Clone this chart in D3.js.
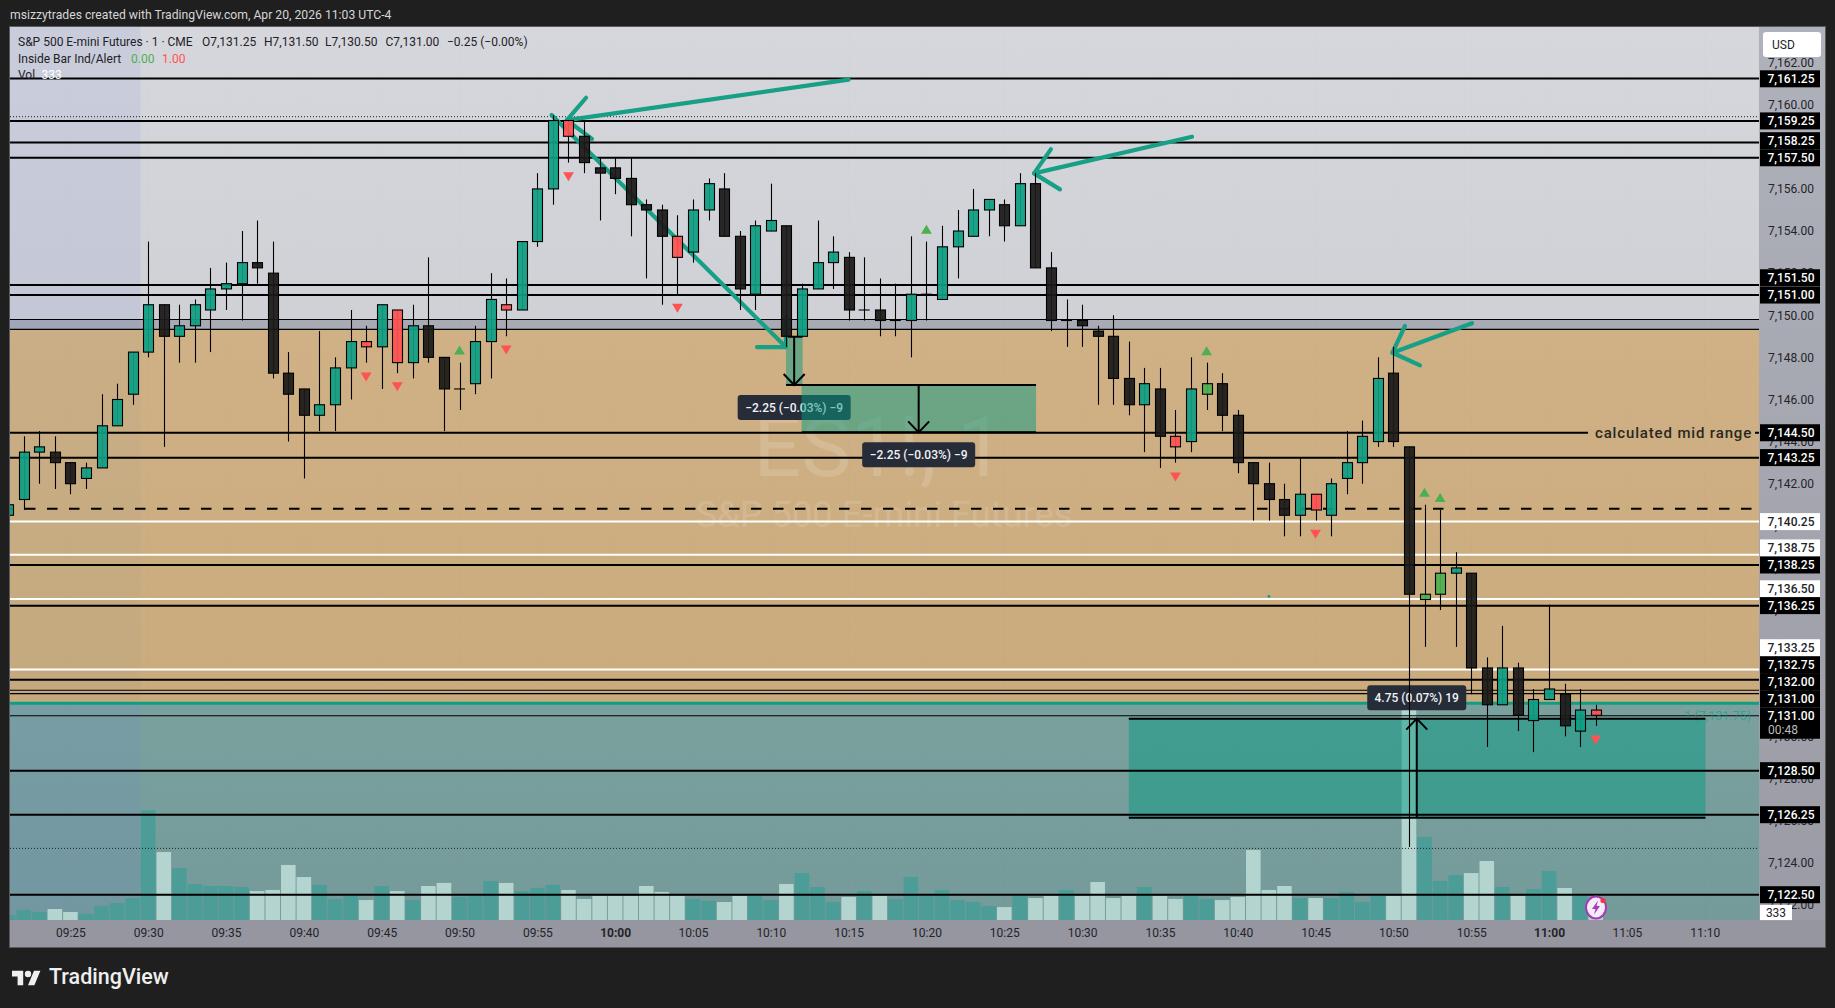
<!DOCTYPE html>
<html>
<head>
<meta charset="utf-8">
<script src="https://cdn.jsdelivr.net/npm/d3@7"></script>
<style>
  html, body { margin: 0; background: #1f1f1f; overflow: hidden; }
  svg { display: block; font-family: Roboto, sans-serif; }
</style>
</head>
<body>
<svg id="chart" width="1835" height="1008"></svg>
<script>
// 1 minute bars, first bar is 09:21
const firstMinute = 9 * 60 + 21;
const opens = [7140.5,7141.25,7143.5,7143.5,7143,7142.25,7142.75,7144.75,7146.25,7148.25,7150.5,7149,7149.5,7150.25,7151.25,7151.5,7152.5,7152,7147.25,7146.5,7145.25,7145.75,7147.5,7148.75,7148.5,7150.25,7147.75,7149.5,7148,7146.5,7146.75,7148.75,7150.5,7150.25,7153.5,7156,7159.25,7158.5,7157,7157,7156.5,7155.25,7155,7153.75,7153,7155,7156,7153.75,7151,7154,7154.25,7149,7151.25,7152.5,7152.75,7150.25,7150.25,7149.75,7149.75,7151,7150.75,7153.25,7153.75,7155,7155.25,7154.25,7156.25,7152.25,7149.75,7149.75,7149.25,7149,7147,7145.75,7146.5,7144.25,7144,7146.25,7146.75,7145.25,7143,7142,7141.25,7140.5,7141.5,7140.5,7142.25,7143,7144,7147.25,7143.75,7136.5,7136.75,7137.75,7137.75,7133.25,7131.5,7133.25,7130.75,7131.75,7132,7130.25,7131.25];
const highs = [7141,7144.25,7144.5,7144.25,7143,7143,7146.25,7146.75,7148.25,7153.5,7150.5,7150.5,7150.75,7152.25,7152.5,7154,7154.5,7153.5,7148.25,7146.5,7149.25,7148,7150.25,7149.5,7150.5,7150.25,7150.5,7152.75,7148,7147.75,7149.5,7152,7151.75,7153.5,7156.75,7159.5,7159.25,7159.25,7157.5,7157.5,7157.5,7155.5,7155.25,7154.75,7155.5,7156.5,7156.75,7154,7154.5,7156.25,7154.25,7151.5,7154.5,7153.75,7153,7152.75,7151.75,7151.5,7153.75,7153.5,7154.25,7155,7156,7155.5,7155.5,7156.75,7156.75,7153,7150.75,7150.5,7149.5,7150,7148.75,7147.5,7147.5,7145.5,7148,7147.75,7147.25,7145.5,7143,7143,7142,7143.25,7141.5,7142.25,7144.5,7145,7148,7148.5,7143.75,7141,7140.75,7138.75,7137.75,7133.75,7135.25,7133.5,7132.25,7136.25,7132.5,7132.25,7131.5];
const lows = [7140.5,7140.75,7142,7141.75,7141.5,7141.75,7142.75,7144.75,7145.75,7148,7143.75,7147.75,7147.75,7148.25,7150.25,7149.75,7151.5,7147,7144,7142.25,7144.5,7144.5,7146,7147.75,7146.5,7147.25,7147,7147.75,7144.5,7145.5,7146.25,7147,7149,7150.25,7153.25,7155.25,7157.25,7156.75,7154.5,7155.75,7153.75,7151.75,7150.5,7151,7152.5,7154.5,7153.75,7150.25,7150.25,7154,7148.5,7149,7151.25,7151.25,7149.75,7149.75,7149,7149,7148,7149.75,7150.75,7151.75,7153.75,7153.75,7153.5,7154.25,7152.25,7149.25,7148.5,7148.5,7145.75,7145.75,7145.25,7143.5,7142.75,7143,7143.5,7145.5,7144.5,7142.5,7140.25,7140.25,7139.5,7139.5,7140.25,7139.5,7141.5,7142,7143.75,7143.75,7124.75,7134.25,7136,7134.25,7132,7129.5,7131.5,7130.25,7129.25,7131.75,7130,7129.5,7130.5];
const closes = [7141,7143.5,7143.75,7143,7142,7142.75,7144.75,7146,7148.25,7150.5,7149,7149.5,7150.5,7151.25,7151.5,7152.5,7152.25,7147.25,7146.25,7145.25,7145.75,7147.5,7148.75,7148.5,7150.5,7147.75,7149.5,7148,7146.5,7146.5,7148.75,7150.75,7150.25,7153.5,7156,7159.25,7158.5,7157.25,7156.75,7156.5,7155.25,7155,7153.75,7152.75,7155,7156.25,7153.75,7151.25,7154.25,7154.5,7149,7151.25,7152.5,7153,7150.25,7150.25,7149.75,7149.75,7151,7151,7153.25,7154,7155,7155.5,7154.25,7156.25,7152.25,7149.75,7149.75,7149.5,7149,7147,7145.75,7146.75,7144.25,7143.75,7146.5,7146.75,7145.25,7143,7142,7141.25,7140.5,7141.5,7140.75,7142,7143,7144.25,7147,7144,7136.75,7136.75,7137.75,7138,7133.25,7131.5,7133.25,7131,7131.75,7132.25,7130.5,7131.25,7131];
const volumes = [230,460,365,500,365,275,640,775,1000,5000,3100,2370,1640,1550,1550,1505,1320,1370,2510,1960,1600,960,1095,910,1550,1320,910,1550,1690,1050,1095,1780,1690,1320,1460,1600,1370,960,1095,1095,1095,1550,1280,1095,960,865,820,1095,1095,910,1640,2140,1505,820,1050,1320,1095,960,1960,1095,1370,910,820,640,590,1095,1000,1095,1370,1095,1730,1000,1095,1505,1095,960,1095,960,910,1050,3190,1370,1550,1000,1000,1000,1280,820,1095,1095,9580,3785,1780,2050,2140,2690,1505,1095,1410,2235,1460,1095,333];

// Inside Bar indicator: bar times and where its triangle sits
const insideDownTimes = ["09:44","09:46","09:53","09:57","10:04","10:36","10:45","11:03"];
const insideDownPrices = [7147.07,7146.6,7148.35,7156.58,7150.33,7142.32,7139.6,7129.83];
const insideUpTimes = ["09:50","10:20","10:38","10:52","10:53"];
const insideUpPrices = [7148.35,7154.08,7148.32,7141.59,7141.35];

// Horizontal levels drawn on the chart
const blackLevels = [7161.25,7159.23,7158.2,7157.48,7151.44,7150.96,7144.42,7143.23,7138.14,7136.2,7132.69,7128.37,7126.28,7122.48];
const thinLevels = [7149.8,7149.33,7132.19,7132.03,7130.98];
const whiteLevels = [7140.2,7138.63,7136.52,7133.17];
const dottedLevels = [7159.43,7124.68];
const dashedLevel = 7140.81;
const positionLevel = 7131.57;
const midRangeLevel = 7144.42;
const midRangeText = "calculated mid range";

// Shaded zones
const bandTop = 7149.8;
const tanTop = 7149.33;
const tanBottom = 7131.57;

// Price axis
const priceTicks = d3.range(7122, 7163, 2);
const blackLabels = ["7,161.25","7,159.25","7,158.25","7,157.50","7,151.50","7,151.00","7,144.50","7,143.25","7,138.25","7,136.25","7,132.75","7,132.00","7,131.00","7,128.50","7,126.25","7,122.50"];
const blackLabelPrices = [7161.23,7159.23,7158.29,7157.48,7151.78,7150.96,7144.42,7143.24,7138.14,7136.21,7133.4,7132.6,7131.79,7128.37,7126.28,7122.48];
const whiteLabels = ["7,140.25","7,138.75","7,136.50","7,133.25"];
const whiteLabelPrices = [7140.2,7138.95,7137.01,7134.21];
const lastPrice = 7130.98;
const lastLabel = "7,131.00";
const countdown = "00:48";
const volumeLabel = "333";
const volumeLabelPrice = 7121.63;

// Time axis
const timeTicks = d3.range(565, 671, 5);

// Hand drawn arrows, each is a polyline of [bar index, price]
const arrowPaths = [
  [[35.9,7159.27],[54.0,7161.19]],
  [[37.13,7160.33],[35.9,7159.27],[37.51,7158.37]],
  [[34.92,7159.51],[49.97,7148.49]],
  [[48.11,7148.49],[49.97,7148.49],[49.97,7149.87]],
  [[65.91,7156.74],[76.06,7158.48]],
  [[66.99,7157.88],[65.91,7156.74],[67.58,7155.98]],
  [[88.94,7148.22],[94.05,7149.62]],
  [[89.74,7149.49],[88.94,7148.22],[90.71,7147.62]]
];

// Price range measurements
const measureStart = [49.98,50.98,72.0];
const measureEnd = [51.04,66.04,109.05];
const measureTop = [7148.98,7146.69,7130.84];
const measureBottom = [7146.69,7144.44,7126.14];
const measureText = ["\u22122.25 (\u22120.03%) \u22129","\u22122.25 (\u22120.03%) \u22129","4.75 (0.07%) 19"];
const measureUp = [false,false,true];
const measureArrowAt = [50.5,58.5,90.5];

const legendName = "S&P 500 E-mini Futures \u00b7 1 \u00b7 CME";

const plotLeft = 10, plotRight = 1759, plotTop = 27, plotBottom = 920, axisRight = 1825, frameBottom = 947;
const bodyWidth = 10;
const teal = "#0f9e83", black = "#1b1a19", red = "#ff5252", green = "#4caf50";

const svg = d3.select("#chart");

// y is price, time is minutes of the day
const y = d3.scaleLinear().domain([7160, 7124]).range([104.7, 862.7]);
const time = d3.scaleLinear().domain([565, 670]).range([70.4, 1704.7]);
const vol = d3.scaleLinear().domain([0, 10000]).range([plotBottom, plotBottom - 219.3]);
const barX = i => time(firstMinute + i);
const toMinutes = t => +t.slice(0, 2) * 60 + +t.slice(3);

const bars = opens.map((o, i) => ({ i, o, h: highs[i], l: lows[i], c: closes[i], v: volumes[i], minute: firstMinute + i }));
const timeLabel = m => d3.format("02")(Math.floor(m / 60)) + ":" + d3.format("02")(m % 60);

// Gradients
const defs = svg.append("defs");
function gradient(id, a, b) {
  const g = defs.append("linearGradient").attr("id", id).attr("x1", 0).attr("x2", 0).attr("y1", 0).attr("y2", 1);
  g.append("stop").attr("offset", "0%").attr("stop-color", a);
  g.append("stop").attr("offset", "100%").attr("stop-color", b);
}
gradient("grayBg", "#d6d7dc", "#d0d1d6");
gradient("tanBg", "#cfb185", "#c9ab7e");
gradient("lowBg", "#7ba19f", "#749a99");
gradient("axisBg", "#b0b2bb", "#9a9ba5");
defs.append("clipPath").attr("id", "plotClip").append("rect")
  .attr("x", plotLeft).attr("y", plotTop).attr("width", plotRight - plotLeft).attr("height", plotBottom - plotTop);

// Frame and axis strips
svg.append("rect").attr("x", plotLeft - 0.5).attr("y", plotTop - 0.5)
  .attr("width", axisRight - plotLeft + 1).attr("height", frameBottom - plotTop + 1)
  .attr("fill", "#95969f").attr("stroke", "#5a5a5e");
svg.append("rect").attr("x", plotRight).attr("y", plotTop).attr("width", axisRight - plotRight).attr("height", plotBottom - plotTop).attr("fill", "url(#axisBg)");

const plot = svg.append("g").attr("clip-path", "url(#plotClip)");
const plotW = plotRight - plotLeft;

// Background zones
plot.append("rect").attr("x", plotLeft).attr("y", plotTop).attr("width", plotW).attr("height", y(bandTop) - plotTop).attr("fill", "url(#grayBg)");
plot.append("rect").attr("x", plotLeft).attr("y", y(bandTop)).attr("width", plotW).attr("height", y(tanTop) - y(bandTop)).attr("fill", "#a8abb4");
plot.append("rect").attr("x", plotLeft).attr("y", y(tanBottom)).attr("width", plotW).attr("height", plotBottom - y(tanBottom)).attr("fill", "url(#lowBg)");
plot.append("rect").attr("x", plotLeft).attr("y", y(tanTop)).attr("width", plotW).attr("height", y(tanBottom) - y(tanTop)).attr("fill", "url(#tanBg)");

// Pre market session tint, ends half a bar before 09:30
const sessionX = time(569.5);
plot.append("rect").attr("x", plotLeft).attr("y", plotTop).attr("width", sessionX - plotLeft).attr("height", y(tanTop) - plotTop).attr("fill", "rgba(100,130,220,0.11)");
plot.append("rect").attr("x", plotLeft).attr("y", y(tanTop)).attr("width", sessionX - plotLeft).attr("height", y(tanBottom) - y(tanTop)).attr("fill", "rgba(120,110,130,0.05)");
plot.append("rect").attr("x", plotLeft).attr("y", y(tanBottom)).attr("width", sessionX - plotLeft).attr("height", plotBottom - y(tanBottom)).attr("fill", "rgba(100,130,220,0.11)");

// Faint grid
plot.selectAll("line.grid").data(timeTicks).join("line").attr("class", "grid")
  .attr("x1", d => time(d)).attr("x2", d => time(d)).attr("y1", plotTop).attr("y2", plotBottom)
  .attr("stroke", "rgba(0,0,0,0.012)");

// Watermark
plot.append("text").attr("x", 879).attr("y", 476).attr("text-anchor", "middle")
  .attr("font-size", 84).attr("fill", "rgba(255,255,255,0.15)").text("ES1!, 1");
plot.append("text").attr("x", 884).attr("y", 527).attr("text-anchor", "middle")
  .attr("font-size", 36.3).attr("fill", "rgba(255,255,255,0.14)").text("S&P 500 E-mini Futures");

// Volume
plot.selectAll("rect.vol").data(bars).join("rect").attr("class", "vol")
  .attr("x", d => barX(d.i) - 7.3).attr("width", 14.6)
  .attr("y", d => vol(d.v)).attr("height", d => plotBottom - vol(d.v))
  .attr("fill", d => d.c >= d.o ? "#4c9d97" : "#b3d4cf");

// Measurements, tooltip bubble helper
const measures = measureStart.map((s, i) => ({
  s, e: measureEnd[i], t: measureTop[i], b: measureBottom[i], text: measureText[i], up: measureUp[i], at: measureArrowAt[i]
}));

function drawBubble(g, m) {
  const cx = barX(m.at);
  const w = m.up ? 99 : 113;
  const cy = m.up ? y(m.t) - 21 : y(m.b) + 22.5;
  g.append("rect").attr("x", cx - w / 2).attr("y", cy - 12.5).attr("width", w).attr("height", 25)
    .attr("rx", 3).attr("fill", "#272c39");
  g.append("text").attr("x", cx).attr("y", cy).attr("dy", "0.36em").attr("text-anchor", "middle")
    .attr("font-size", 12).attr("font-weight", 500).attr("fill", "#f2f3f5").text(m.text);
}

drawBubble(plot, measures[0]);

plot.selectAll("rect.measure").data(measures).join("rect").attr("class", "measure")
  .attr("x", d => barX(d.s)).attr("width", d => barX(d.e) - barX(d.s))
  .attr("y", d => y(d.t)).attr("height", d => y(d.b) - y(d.t))
  .attr("fill", "rgba(8,153,129,0.5)");

// Levels
plot.selectAll("line.thin").data(thinLevels).join("line").attr("class", "thin")
  .attr("x1", plotLeft).attr("x2", plotRight).attr("y1", y).attr("y2", y)
  .attr("stroke", "#000").attr("stroke-width", 1.1);
plot.selectAll("line.white").data(whiteLevels).join("line").attr("class", "white")
  .attr("x1", plotLeft).attr("x2", plotRight).attr("y1", y).attr("y2", y)
  .attr("stroke", "#fff").attr("stroke-width", 2);
plot.selectAll("line.black").data(blackLevels).join("line").attr("class", "black")
  .attr("x1", plotLeft).attr("x2", plotRight).attr("y1", y).attr("y2", y)
  .attr("stroke", "#000").attr("stroke-width", 2);
plot.selectAll("line.dotted").data(dottedLevels).join("line").attr("class", "dotted")
  .attr("x1", plotLeft).attr("x2", plotRight).attr("y1", y).attr("y2", y)
  .attr("stroke", "#222").attr("stroke-width", 1).attr("stroke-dasharray", "1 2");
plot.append("line").attr("x1", plotLeft).attr("x2", plotRight).attr("y1", y(dashedLevel)).attr("y2", y(dashedLevel))
  .attr("stroke", "#000").attr("stroke-width", 2).attr("stroke-dasharray", "10.5 11.5").attr("stroke-dashoffset", 7);
plot.append("line").attr("x1", plotLeft).attr("x2", plotRight).attr("y1", y(positionLevel)).attr("y2", y(positionLevel))
  .attr("stroke", "#0f9e83").attr("stroke-width", 3);
plot.append("text").attr("x", 1751).attr("y", y(lastPrice)).attr("dy", "0.36em").attr("text-anchor", "end")
  .attr("font-size", 12.5).attr("fill", "rgba(15,158,131,0.65)").text("1 (7,131.75)");

// Mid range text breaks the line
plot.append("rect").attr("x", 1588).attr("y", y(midRangeLevel) - 3).attr("width", 167).attr("height", 6).attr("fill", "#cbae81");
plot.append("text").attr("x", 1595).attr("y", y(midRangeLevel)).attr("dy", "0.35em")
  .attr("font-size", 15).attr("font-weight", 500).attr("letter-spacing", 0.85).attr("fill", "#2b2822").text(midRangeText);

// Measure edges and arrows
const measureEdges = plot.append("g").attr("stroke", "#000").attr("stroke-width", 2).attr("fill", "none");
measures.forEach(m => {
  const ax = barX(m.at);
  const tip = m.up ? y(m.t) : y(m.b);
  const tail = m.up ? y(m.b) : y(m.t);
  const back = m.up ? 11 : -11;
  measureEdges.append("line").attr("x1", barX(m.s)).attr("x2", barX(m.e)).attr("y1", y(m.t)).attr("y2", y(m.t));
  measureEdges.append("line").attr("x1", barX(m.s)).attr("x2", barX(m.e)).attr("y1", y(m.b)).attr("y2", y(m.b));
  measureEdges.append("line").attr("x1", ax).attr("x2", ax).attr("y1", tail).attr("y2", tip);
  measureEdges.append("path").attr("d", d3.line()([[ax - 10.5, tip + back], [ax, tip], [ax + 10.5, tip + back]]));
});

drawBubble(plot, measures[1]);
drawBubble(plot, measures[2]);

// Drawn arrows
const arrowLine = d3.line().x(d => barX(d[0])).y(d => y(d[1]));
plot.selectAll("path.arrow").data(arrowPaths).join("path").attr("class", "arrow")
  .attr("d", arrowLine).attr("fill", "none").attr("stroke", "#17a085")
  .attr("stroke-width", 4.2).attr("stroke-linecap", "round").attr("stroke-linejoin", "round");

// Candles
plot.selectAll("line.wick").data(bars).join("line").attr("class", "wick")
  .attr("x1", d => Math.round(barX(d.i)) + 0.5).attr("x2", d => Math.round(barX(d.i)) + 0.5)
  .attr("y1", d => y(d.h)).attr("y2", d => y(d.l))
  .attr("stroke", "#000").attr("stroke-width", 1.1);

function bodyFill(d) {
  const t = timeLabel(d.minute);
  if (insideDownTimes.includes(t)) return red;
  if (insideUpTimes.includes(t)) return green;
  return d.c >= d.o ? teal : black;
}

plot.selectAll("rect.body").data(bars.filter(d => d.o !== d.c)).join("rect").attr("class", "body")
  .attr("x", d => Math.round(barX(d.i)) + 0.5 - bodyWidth / 2).attr("width", bodyWidth)
  .attr("y", d => y(Math.max(d.o, d.c))).attr("height", d => Math.abs(y(d.o) - y(d.c)))
  .attr("fill", bodyFill).attr("fill-opacity", 0.93)
  .attr("stroke", "#000").attr("stroke-width", 1.1);

plot.selectAll("line.doji").data(bars.filter(d => d.o === d.c)).join("line").attr("class", "doji")
  .attr("x1", d => barX(d.i) - 5.5).attr("x2", d => barX(d.i) + 5.5)
  .attr("y1", d => y(d.o)).attr("y2", d => y(d.o))
  .attr("stroke", "#000").attr("stroke-width", 1.1);

// Inside bar triangles
const triDown = d3.line()([[-5.4, -4.5], [5.4, -4.5], [0, 4.5]]) + "Z";
const triUp = d3.line()([[-5.4, 4.5], [5.4, 4.5], [0, -4.5]]) + "Z";
plot.selectAll("path.down").data(insideDownTimes).join("path").attr("class", "down")
  .attr("d", triDown).attr("fill", red)
  .attr("transform", (d, i) => `translate(${time(toMinutes(d))},${y(insideDownPrices[i])})`);
plot.selectAll("path.up").data(insideUpTimes).join("path").attr("class", "up")
  .attr("d", triUp).attr("fill", green)
  .attr("transform", (d, i) => `translate(${time(toMinutes(d))},${y(insideUpPrices[i])})`);
plot.append("circle").attr("cx", time(toMinutes("10:42"))).attr("cy", y(7136.65)).attr("r", 1.4).attr("fill", teal);

// Price axis
const priceAxis = d3.axisRight(y).tickValues(priceTicks).tickSize(0).tickPadding(0).tickFormat(d3.format(",.2f"));
const priceG = svg.append("g").attr("transform", `translate(1791,0)`).call(priceAxis);
priceG.select(".domain").remove();
priceG.selectAll("text").attr("text-anchor", "middle").attr("font-family", "Roboto, sans-serif")
  .attr("font-size", 12).attr("fill", "#23242a");

// Time axis
const timeAxis = d3.axisBottom(time).tickValues(timeTicks).tickSize(0).tickPadding(0).tickFormat(timeLabel);
const timeG = svg.append("g").attr("transform", `translate(0,${plotBottom + 8.5})`).call(timeAxis);
timeG.select(".domain").remove();
timeG.selectAll("text").attr("font-family", "Roboto, sans-serif").attr("font-size", 12)
  .attr("fill", "#23242a").attr("font-weight", d => d % 60 === 0 ? 700 : 400);

// Level labels on the price axis
function priceTags(texts, prices, fill, color) {
  const g = svg.append("g");
  texts.forEach((t, i) => {
    g.append("rect").attr("x", 1760).attr("y", y(prices[i]) - 8.5).attr("width", 60).attr("height", 17).attr("fill", fill);
    g.append("text").attr("x", 1791).attr("y", y(prices[i])).attr("dy", "0.36em").attr("text-anchor", "middle")
      .attr("font-size", 12).attr("font-weight", 500).attr("fill", color).text(t);
  });
}
priceTags(whiteLabels, whiteLabelPrices, "#fff", "#23242a");
priceTags(blackLabels, blackLabelPrices, "#000", "#fff");

// Last price with countdown
svg.append("rect").attr("x", 1760).attr("y", y(lastPrice) - 8.5).attr("width", 60).attr("height", 31.5).attr("fill", "#000");
svg.append("text").attr("x", 1791).attr("y", y(lastPrice)).attr("dy", "0.36em").attr("text-anchor", "middle")
  .attr("font-size", 12).attr("font-weight", 500).attr("fill", "#fff").text(lastLabel);
svg.append("text").attr("x", 1768).attr("y", y(lastPrice) + 14).attr("dy", "0.36em")
  .attr("font-size", 12).attr("fill", "#bdbdbd").text(countdown);

// Volume tag
svg.append("rect").attr("x", 1760).attr("y", y(volumeLabelPrice) - 7.7).attr("width", 32).attr("height", 15.2).attr("fill", "#fff");
svg.append("text").attr("x", 1776).attr("y", y(volumeLabelPrice)).attr("dy", "0.36em").attr("text-anchor", "middle")
  .attr("font-size", 12).attr("fill", "#23242a").text(volumeLabel);

// USD button
svg.append("rect").attr("x", 1763).attr("y", 32).attr("width", 58).attr("height", 25).attr("rx", 3).attr("fill", "#fff");
svg.append("text").attr("x", 1772).attr("y", 44.5).attr("dy", "0.36em").attr("font-size", 12).attr("fill", "#23242a").text("USD");

// Top text and legend
svg.append("text").attr("x", 10).attr("y", 15).attr("dy", "0.36em").attr("font-size", 12.2).attr("fill", "#d6d6d6")
  .text("msizzytrades created with TradingView.com, Apr 20, 2026 11:03 UTC-4");

function legend(x, yPos, text, color) {
  svg.append("text").attr("x", x).attr("y", yPos).attr("dy", "0.36em").attr("font-size", 12).attr("fill", color).text(text);
}
legend(18, 41.7, legendName, "#1f2126");
legend(202, 41.7, "O7,131.25", "#1f2126");
legend(264, 41.7, "H7,131.50", "#1f2126");
legend(325, 41.7, "L7,130.50", "#1f2126");
legend(385.5, 41.7, "C7,131.00", "#1f2126");
legend(447, 41.7, "\u22120.25 (\u22120.00%)", "#1f2126");
legend(18, 58.7, "Inside Bar Ind/Alert", "#1f2126");
legend(131, 58.7, "0.00", green);
legend(162, 58.7, "1.00", red);
legend(18, 75, "Vol", "#1f2126");
legend(41.5, 75, "333", "#fff");

// Flash icon
const flash = svg.append("g").attr("transform", "translate(1596,907.5)");
flash.append("ellipse").attr("rx", 10).attr("ry", 11).attr("fill", "#f4ecf6").attr("stroke", "#a63ab8").attr("stroke-width", 2);
flash.append("path").attr("d", "M2,-7L-4,1.5H-0.5L-2,7L4,-1.5H0.5Z").attr("fill", "#a63ab8");
flash.append("circle").attr("cx", 7).attr("cy", -7).attr("r", 2.6).attr("fill", "#f23645");

// TradingView logo
const logo = svg.append("g").attr("transform", "translate(12,967.6) scale(0.8)").attr("fill", "#efefef");
logo.append("path").attr("d", "M14 22H7V11H0V4h14v18zM28 22h-8l7.5-18h8L28 22z");
logo.append("circle").attr("cx", 20).attr("cy", 8).attr("r", 4);
svg.append("text").attr("x", 49).attr("y", 984).attr("font-size", 21.5).attr("font-weight", 500).attr("fill", "#efefef").text("TradingView");
</script>
</body>
</html>
